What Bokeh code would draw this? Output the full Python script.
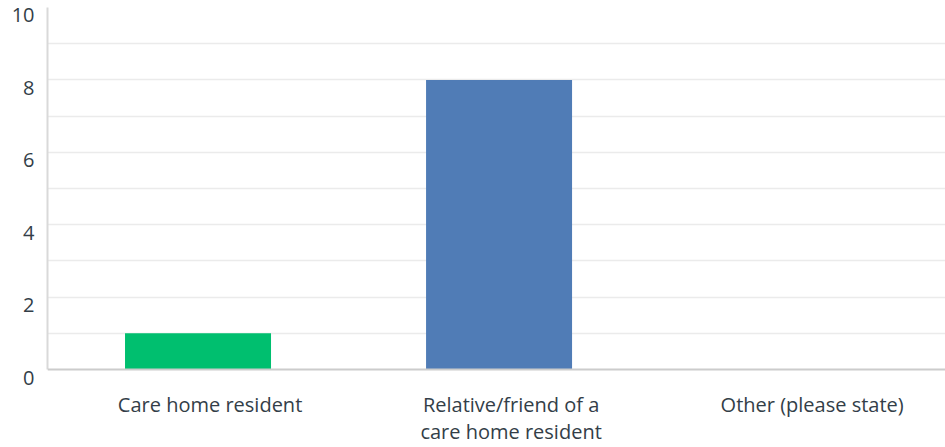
from bokeh.plotting import figure
from bokeh.models import Range1d, FixedTicker, ColumnDataSource, LinearAxis, Span
from bokeh.embed import file_html
from bokeh.resources import INLINE

categories = ["Care home resident", "Relative/friend of a\ncare home resident", "Other (please state)"]
values = [1, 8, 0]
colors = ["#00BF6F", "#507CB6", "#A0A0A0"]
y_ticks = [0, 2, 4, 6, 8, 10]
grid_ticks = [1, 2, 3, 4, 5, 6, 7, 8, 9]

xs = [i + 0.5 for i in range(len(categories))]
src = ColumnDataSource(dict(x=xs, top=values, color=colors))

# style offsets (label placement, in data units)
label_dx = 0.04
label_dy = 0.22

p = figure(width=945, height=447, output_backend="svg", toolbar_location=None,
           x_range=Range1d(0, 2.983), y_range=Range1d(-label_dy, 10),
           min_border_left=47, min_border_right=0, min_border_top=7, min_border_bottom=70,
           y_axis_location=None)
p.outline_line_color = None
p.background_fill_color = "white"
p.border_fill_color = "white"

p.vbar(x="x", top="top", width=0.485, bottom=0, color="color", source=src, line_color=None)

text_color = "#333E48"
font = "Open Sans"
fsize = "20px"

# left axis line (no labels)
yline = LinearAxis(bounds=(0, 10))
yline.ticker = FixedTicker(ticks=[])
yline.axis_line_color = "#d9d9d9"
yline.axis_line_width = 2
yline.major_tick_line_color = None
yline.minor_tick_line_color = None
yline.major_label_standoff = 0
yline.major_label_text_font_size = "0px"
p.add_layout(yline, "left")

# y labels on a shifted range so they sit just below their gridline
p.extra_y_ranges = {"lbl": Range1d(0, 10 + label_dy)}
yax = LinearAxis(y_range_name="lbl")
yax.ticker = FixedTicker(ticks=y_ticks)
yax.axis_line_color = None
yax.major_tick_line_color = None
yax.minor_tick_line_color = None
yax.major_label_standoff = 7
yax.major_label_text_font = font
yax.major_label_text_font_size = fsize
yax.major_label_text_color = text_color
p.add_layout(yax, "left")

# baseline
p.add_layout(Span(location=0, dimension="width", line_color="#cccccc", line_width=2))

p.xaxis.ticker = FixedTicker(ticks=[x + label_dx for x in xs])
p.xaxis.major_label_overrides = {x + label_dx: c for x, c in zip(xs, categories)}
p.xaxis.axis_line_color = None
p.xaxis.major_tick_line_color = None
p.xaxis.minor_tick_line_color = None
p.xaxis.major_label_standoff = 7
p.xaxis.major_label_text_font = font
p.xaxis.major_label_text_font_size = fsize
p.xaxis.major_label_text_color = text_color
p.xaxis.major_label_text_line_height = 1.0

p.xgrid.visible = False
p.ygrid.ticker = FixedTicker(ticks=grid_ticks)
p.ygrid.grid_line_color = "#ebebeb"
p.ygrid.grid_line_width = 1.5

open("out.html", "w").write(file_html(p, INLINE))
